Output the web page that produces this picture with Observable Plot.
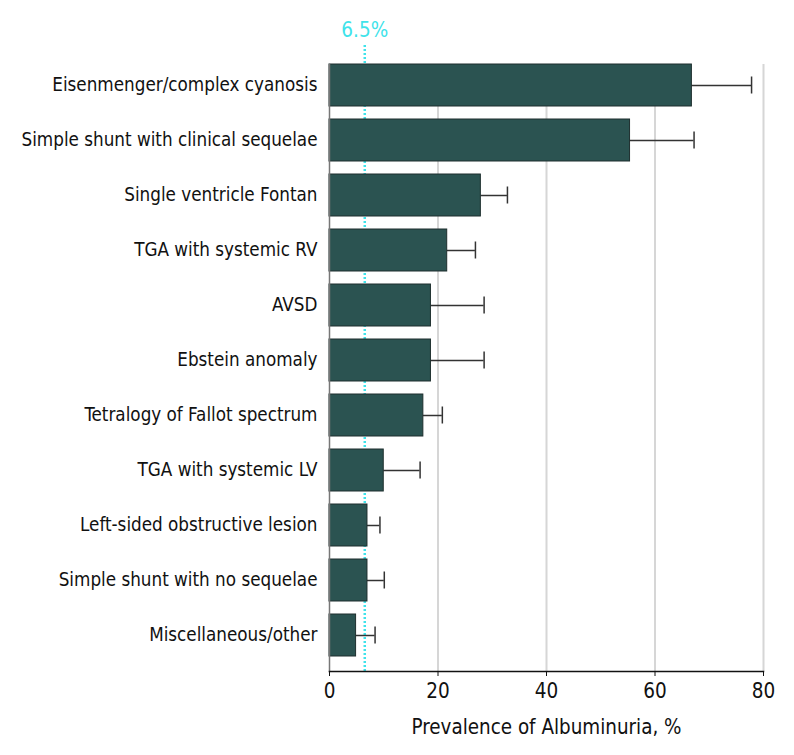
<!DOCTYPE html>
<html>
<head>
<meta charset="utf-8">
<script src="https://cdn.jsdelivr.net/npm/d3@7"></script>
<script src="https://cdn.jsdelivr.net/npm/@observablehq/plot@0.6"></script>
<style>
  html, body { margin: 0; padding: 0; background: white; }
  #chart { width: 794px; height: 755px; }
</style>
</head>
<body>
<div id="chart"></div>
<script>
const categories = [
  "Eisenmenger/complex cyanosis",
  "Simple shunt with clinical sequelae",
  "Single ventricle Fontan",
  "TGA with systemic RV",
  "AVSD",
  "Ebstein anomaly",
  "Tetralogy of Fallot spectrum",
  "TGA with systemic LV",
  "Left-sided obstructive lesion",
  "Simple shunt with no sequelae",
  "Miscellaneous/other"
];
const prevalence = [66.8, 55.4, 27.9, 21.7, 18.7, 18.7, 17.3, 10.0, 7.0, 7.0, 4.9];
const upperCI   = [77.8, 67.2, 32.8, 26.9, 28.5, 28.5, 20.8, 16.7, 9.3, 10.1, 8.4];
const referenceValue = 6.5;
const referenceLabel = "6.5%";
const xTicks = [0, 20, 40, 60, 80];
const xLabel = "Prevalence of Albuminuria, %";

const data = categories.map((c, i) => ({category: c, value: prevalence[i], upper: upperCI[i]}));

const teal = "#2b5351";
const cyan = "#3fe3ea";
const font = "'DejaVu Sans Condensed', 'DejaVu Sans', sans-serif";

const chart = Plot.plot({
  width: 794,
  height: 755,
  marginLeft: 329,
  marginRight: 31,
  marginTop: 64,
  marginBottom: 84,
  style: {fontFamily: font, fontSize: "18.7px", color: "#111", background: "white", overflow: "visible"},
  x: {domain: [0, 80], ticks: xTicks},
  y: {domain: categories, paddingInner: 0.236, paddingOuter: 0.134, align: 0},
  marks: [
    Plot.gridX(xTicks.filter(d => d > 0), {stroke: "#d6d6d6", strokeOpacity: 1, strokeWidth: 2}),
    Plot.ruleX([referenceValue], {stroke: cyan, strokeWidth: 2.5, strokeDasharray: "2,2", insetTop: -19}),
    Plot.ruleY(data, {y: "category", x1: "value", x2: "upper", stroke: "#333", strokeWidth: 1.5}),
    Plot.tickX(data, {y: "category", x: "upper", stroke: "#333", strokeWidth: 1.5, inset: 12.5}),
    Plot.barX(data, {y: "category", x: "value", fill: teal, stroke: "#1e2f2e", strokeWidth: 1}),
    Plot.frame({anchor: "left", stroke: "#777", strokeWidth: 1.5}),
    Plot.frame({anchor: "bottom", stroke: "#111", strokeWidth: 1.5}),
    Plot.axisX({ticks: xTicks, tickSize: 5, tickPadding: 7, label: null, fontSize: 20.5, stroke: "#111"}),
    Plot.axisY({tickSize: 0, tickPadding: 12, label: null, fontSize: 18.7}),
    Plot.text([xLabel], {frameAnchor: "bottom", dy: 56, lineAnchor: "middle", fontSize: 20.4, fill: "#111"}),
    Plot.text([referenceValue], {x: d => d, frameAnchor: "top", dy: -34, lineAnchor: "middle", text: () => referenceLabel, fill: cyan, fontSize: 20.5})
  ]
});
document.getElementById("chart").appendChild(chart);
</script>
</body>
</html>
